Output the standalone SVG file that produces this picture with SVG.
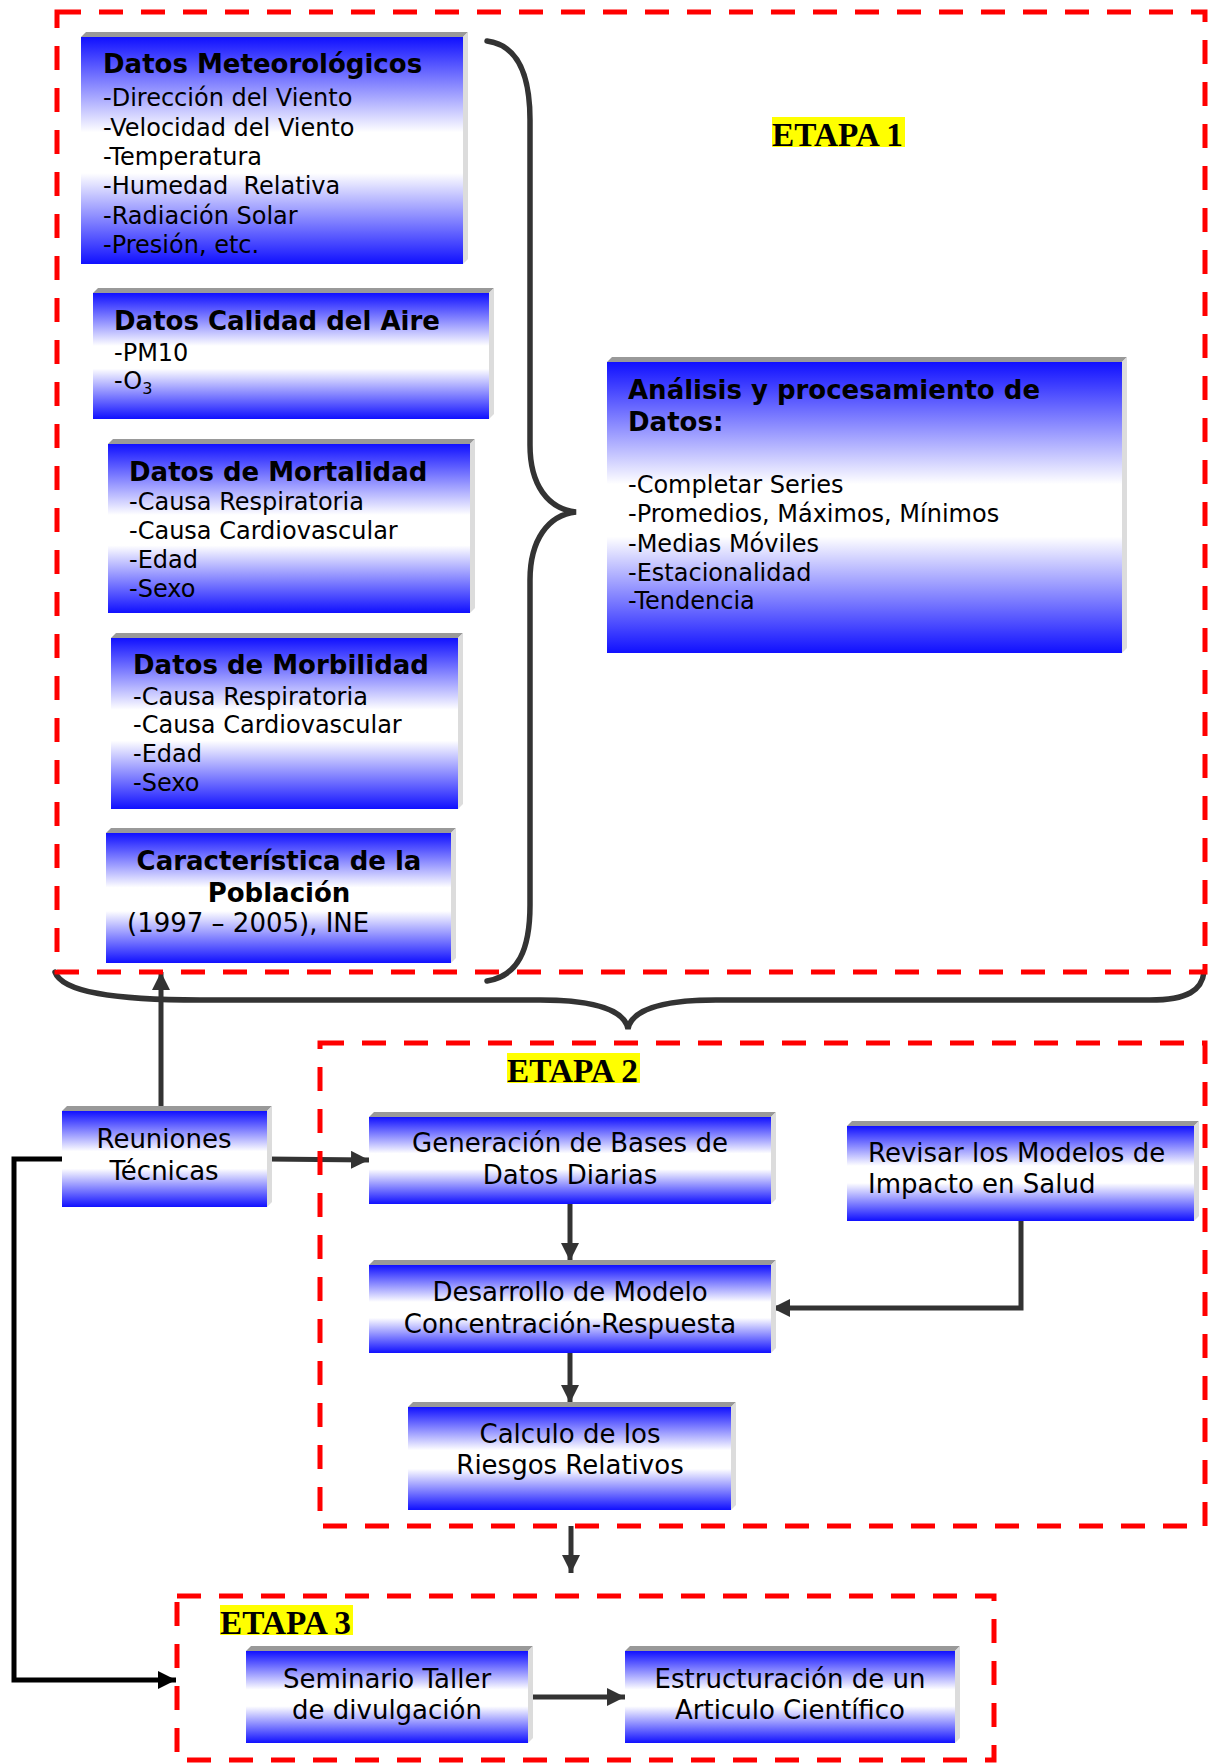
<svg xmlns="http://www.w3.org/2000/svg" width="1209" height="1763" viewBox="0 0 1209 1763">
<defs>
<linearGradient id="bg" x1="0" y1="0" x2="0" y2="1">
<stop offset="0" stop-color="#1010ff"/>
<stop offset="0.42" stop-color="#ffffff"/>
<stop offset="0.6" stop-color="#ffffff"/>
<stop offset="1" stop-color="#1010ff"/>
</linearGradient>
<marker id="ah" markerUnits="userSpaceOnUse" markerWidth="18" markerHeight="18" refX="18" refY="9" orient="auto">
<path d="M0,0 L18,9 L0,18 z" fill="#333"/>
</marker>
<marker id="ahk" markerUnits="userSpaceOnUse" markerWidth="18" markerHeight="18" refX="18" refY="9" orient="auto">
<path d="M0,0 L18,9 L0,18 z" fill="#000"/>
</marker>
</defs>
<style>
.box{fill:url(#bg)}
.bt{fill:#999}
.bs{fill:#dcdcdc}
text{font-family:"DejaVu Sans",Verdana,sans-serif;fill:#000}
.t{font-weight:bold;font-size:26px}
.l{font-size:24px}
.c{font-size:26px;text-anchor:middle}
.cl{font-size:26px}
.frame{fill:none;stroke:#ff0000;stroke-width:5;stroke-dasharray:24 18}
.etapa{font-family:"Liberation Serif","Times New Roman",serif;font-weight:bold;font-size:34px}
.hl{fill:#ffff00}
.conn{fill:none;stroke:#333;stroke-width:5}
.brace{fill:none;stroke:#333;stroke-width:5.5;stroke-linecap:round}
</style>

<g id="connectors">
<path class="brace" d="M487,41 C518,45 530,75 530,120 L530,445 C530,485 548,509 576,512 C548,515 530,540 530,580 L530,905 C530,950 518,976 487,981"/>
<path class="brace" d="M55,972 C62,992 115,1000 200,1000 L540,1000 C600,1000 625,1012 628,1029 C631,1012 656,1000 716,1000 L1150,1000 C1188,1000 1202,990 1204,972"/>
<line class="conn" x1="161" y1="1107" x2="161" y2="972" marker-end="url(#ah)"/>
<line class="conn" x1="267" y1="1159" x2="369" y2="1160" marker-end="url(#ah)"/>
<line class="conn" x1="570" y1="1204" x2="570" y2="1261" marker-end="url(#ah)"/>
<line class="conn" x1="570" y1="1353" x2="570" y2="1403" marker-end="url(#ah)"/>
<path class="conn" d="M1021,1221 V1308 H772" marker-end="url(#ah)"/>
<line class="conn" x1="571" y1="1526" x2="571" y2="1573" marker-end="url(#ah)"/>
<line class="conn" x1="531" y1="1697" x2="625" y2="1697" marker-end="url(#ah)"/>
<path class="conn" style="stroke:#000" d="M62,1159 H14 V1680 H176" marker-end="url(#ahk)"/>
</g>

<g id="etapa1">
<rect class="frame" x="57" y="12" width="1148" height="960"/>
<rect class="hl" x="772" y="117" width="133" height="30"/>
<text class="etapa" x="772" y="146" textLength="131" lengthAdjust="spacingAndGlyphs">ETAPA 1</text>
</g>
<g id="etapa2">
<rect class="frame" x="320" y="1043" width="885" height="483"/>
<rect class="hl" x="507" y="1053" width="133" height="30"/>
<text class="etapa" x="507" y="1082" textLength="131" lengthAdjust="spacingAndGlyphs">ETAPA 2</text>
</g>
<g id="etapa3">
<rect class="frame" x="177" y="1596" width="817" height="164"/>
<rect class="hl" x="220" y="1605" width="133" height="30"/>
<text class="etapa" x="220" y="1634" textLength="131" lengthAdjust="spacingAndGlyphs">ETAPA 3</text>
</g>

<g id="meteo">
<polygon class="bt" points="81,37 86,32 468,32 463,37"/>
<polygon class="bs" points="463,37 468,32 468,259 463,264"/>
<rect class="box" x="81" y="37" width="382" height="227"/>
<text class="t" x="103" y="73">Datos Meteorológicos</text>
<text class="l" x="103" y="106">-Dirección del Viento</text>
<text class="l" x="103" y="136">-Velocidad del Viento</text>
<text class="l" x="103" y="165">-Temperatura</text>
<text class="l" x="103" y="194">-Humedad&#160; Relativa</text>
<text class="l" x="103" y="224">-Radiación Solar</text>
<text class="l" x="103" y="253">-Presión, etc.</text>
</g>

<g id="calidad">
<polygon class="bt" points="93,293 98,288 494,288 489,293"/>
<polygon class="bs" points="489,293 494,288 494,414 489,419"/>
<rect class="box" x="93" y="293" width="396" height="126"/>
<text class="t" x="114" y="330">Datos Calidad del Aire</text>
<text class="l" x="114" y="361">-PM10</text>
<text class="l" x="114" y="389">-O<tspan font-size="16" dy="5">3</tspan></text>
</g>

<g id="mortalidad">
<polygon class="bt" points="108,444 113,439 475,439 470,444"/>
<polygon class="bs" points="470,444 475,439 475,608 470,613"/>
<rect class="box" x="108" y="444" width="362" height="169"/>
<text class="t" x="129" y="481">Datos de Mortalidad</text>
<text class="l" x="129" y="510">-Causa Respiratoria</text>
<text class="l" x="129" y="539">-Causa Cardiovascular</text>
<text class="l" x="129" y="568">-Edad</text>
<text class="l" x="129" y="597">-Sexo</text>
</g>

<g id="morbilidad">
<polygon class="bt" points="111,638 116,633 463,633 458,638"/>
<polygon class="bs" points="458,638 463,633 463,804 458,809"/>
<rect class="box" x="111" y="638" width="347" height="171"/>
<text class="t" x="133" y="674">Datos de Morbilidad</text>
<text class="l" x="133" y="705">-Causa Respiratoria</text>
<text class="l" x="133" y="733">-Causa Cardiovascular</text>
<text class="l" x="133" y="762">-Edad</text>
<text class="l" x="133" y="791">-Sexo</text>
</g>

<g id="caracteristica">
<polygon class="bt" points="106,833 111,828 456,828 451,833"/>
<polygon class="bs" points="451,833 456,828 456,958 451,963"/>
<rect class="box" x="106" y="833" width="345" height="130"/>
<text class="t" x="279" y="870" text-anchor="middle">Característica de la</text>
<text class="t" x="279" y="902" text-anchor="middle">Población</text>
<text class="cl" x="127" y="932">(1997 – 2005), INE</text>
</g>

<g id="analisis">
<polygon class="bt" points="607,362 612,357 1127,357 1122,362"/>
<polygon class="bs" points="1122,362 1127,357 1127,648 1122,653"/>
<rect class="box" x="607" y="362" width="515" height="291"/>
<text class="t" x="628" y="399">Análisis y procesamiento de</text>
<text class="t" x="628" y="431">Datos:</text>
<text class="l" x="628" y="493">-Completar Series</text>
<text class="l" x="628" y="522">-Promedios, Máximos, Mínimos</text>
<text class="l" x="628" y="552">-Medias Móviles</text>
<text class="l" x="628" y="581">-Estacionalidad</text>
<text class="l" x="628" y="609">-Tendencia</text>
</g>

<g id="reuniones">
<polygon class="bt" points="62,1111 67,1106 272,1106 267,1111"/>
<polygon class="bs" points="267,1111 272,1106 272,1202 267,1207"/>
<rect class="box" x="62" y="1111" width="205" height="96"/>
<text class="c" x="164" y="1148">Reuniones</text>
<text class="c" x="164" y="1180">Técnicas</text>
</g>

<g id="generacion">
<polygon class="bt" points="369,1117 374,1112 776,1112 771,1117"/>
<polygon class="bs" points="771,1117 776,1112 776,1199 771,1204"/>
<rect class="box" x="369" y="1117" width="402" height="87"/>
<text class="c" x="570" y="1152">Generación de Bases de</text>
<text class="c" x="570" y="1184">Datos Diarias</text>
</g>

<g id="revisar">
<polygon class="bt" points="847,1126 852,1121 1199,1121 1194,1126"/>
<polygon class="bs" points="1194,1126 1199,1121 1199,1216 1194,1221"/>
<rect class="box" x="847" y="1126" width="347" height="95"/>
<text class="cl" x="868" y="1162">Revisar los Modelos de</text>
<text class="cl" x="868" y="1193">Impacto en Salud</text>
</g>

<g id="desarrollo">
<polygon class="bt" points="369,1265 374,1260 776,1260 771,1265"/>
<polygon class="bs" points="771,1265 776,1260 776,1348 771,1353"/>
<rect class="box" x="369" y="1265" width="402" height="88"/>
<text class="c" x="570" y="1301">Desarrollo de Modelo</text>
<text class="c" x="570" y="1333">Concentración-Respuesta</text>
</g>

<g id="calculo">
<polygon class="bt" points="408,1407 413,1402 736,1402 731,1407"/>
<polygon class="bs" points="731,1407 736,1402 736,1505 731,1510"/>
<rect class="box" x="408" y="1407" width="323" height="103"/>
<text class="c" x="570" y="1443">Calculo de los</text>
<text class="c" x="570" y="1474">Riesgos Relativos</text>
</g>

<g id="seminario">
<polygon class="bt" points="246,1651 251,1646 533,1646 528,1651"/>
<polygon class="bs" points="528,1651 533,1646 533,1738 528,1743"/>
<rect class="box" x="246" y="1651" width="282" height="92"/>
<text class="c" x="387" y="1688">Seminario Taller</text>
<text class="c" x="387" y="1719">de divulgación</text>
</g>

<g id="estructuracion">
<polygon class="bt" points="625,1651 630,1646 960,1646 955,1651"/>
<polygon class="bs" points="955,1651 960,1646 960,1738 955,1743"/>
<rect class="box" x="625" y="1651" width="330" height="92"/>
<text class="c" x="790" y="1688">Estructuración de un</text>
<text class="c" x="790" y="1719">Articulo Científico</text>
</g>
</svg>
